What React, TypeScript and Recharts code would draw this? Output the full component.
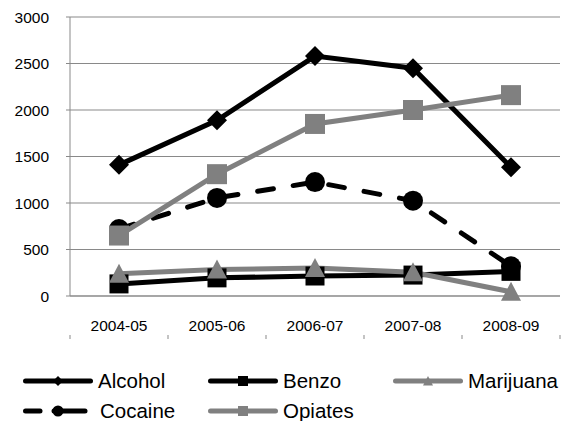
import { LineChart, Line, XAxis, YAxis, CartesianGrid } from 'recharts';

const periods = ['2004-05', '2005-06', '2006-07', '2007-08', '2008-09'];
const alcohol = [1410, 1890, 2580, 2450, 1385];
const benzo = [130, 195, 215, 225, 265];
const marijuana = [240, 285, 300, 255, 45];
const cocaine = [720, 1055, 1225, 1025, 320];
const opiates = [650, 1310, 1850, 2000, 2160];
const yTicks = [0, 500, 1000, 1500, 2000, 2500, 3000];
const edgeTicks = [0, 1, 2, 3, 4, 5];

const BLACK = '#000000';
const GRAY = '#808080';
const GRID = '#898989';
const FONT = '"Liberation Sans", Arial, sans-serif';

const data = periods.map((period, i) => ({
  period,
  slot: i + 0.5,
  alcohol: alcohol[i],
  benzo: benzo[i],
  marijuana: marijuana[i],
  cocaine: cocaine[i],
  opiates: opiates[i],
}));

type Shape = 'diamond' | 'square' | 'triangle' | 'circle';

function marker(shape: Shape, cx: number, cy: number, r: number, fill: string, key?: string | number) {
  if (shape === 'diamond') {
    return <path key={key} d={`M${cx},${cy - r}L${cx + r},${cy}L${cx},${cy + r}L${cx - r},${cy}Z`} fill={fill} />;
  }
  if (shape === 'square') {
    return <rect key={key} x={cx - r} y={cy - r} width={r * 2} height={r * 2} fill={fill} />;
  }
  if (shape === 'triangle') {
    return <path key={key} d={`M${cx},${cy - r}L${cx + r},${cy + r * 0.9}L${cx - r},${cy + r * 0.9}Z`} fill={fill} />;
  }
  return <circle key={key} cx={cx} cy={cy} r={r} fill={fill} />;
}

const dotOf = (shape: Shape, r: number, fill: string) => (p: any) =>
  marker(shape, p.cx, p.cy, r, fill, `${shape}-${p.index}`);

const legendItems = [
  { name: 'Alcohol', color: BLACK, shape: 'diamond' as Shape, x: 23, y: 381, dashed: false, r: 5 },
  { name: 'Benzo', color: BLACK, shape: 'square' as Shape, x: 208, y: 381, dashed: false, r: 5 },
  { name: 'Marijuana', color: GRAY, shape: 'triangle' as Shape, x: 393, y: 381, dashed: false, r: 5 },
  { name: 'Cocaine', color: BLACK, shape: 'circle' as Shape, x: 23, y: 411, dashed: true, r: 5.5 },
  { name: 'Opiates', color: GRAY, shape: 'square' as Shape, x: 208, y: 411, dashed: false, r: 5 },
];

function ChartLegend() {
  return (
    <svg width={573} height={421} style={{ position: 'absolute', left: 0, top: 0, pointerEvents: 'none' }}>
      {legendItems.map((it) => {
        const w = 70;
        const mid = it.x + w / 2;
        return (
          <g key={it.name}>
            {it.dashed ? (
              <>
                <line x1={it.x + 2.5} y1={it.y} x2={it.x + 17} y2={it.y} stroke={it.color} strokeWidth={5} strokeLinecap="round" />
                <line x1={mid - 4} y1={it.y} x2={it.x + 62} y2={it.y} stroke={it.color} strokeWidth={5} strokeLinecap="round" />
              </>
            ) : (
              <line x1={it.x + 2.5} y1={it.y} x2={it.x + w - 2.5} y2={it.y} stroke={it.color} strokeWidth={5} strokeLinecap="round" />
            )}
            {marker(it.shape, it.dashed ? it.x + 35 : mid, it.y, it.r, it.color)}
            <text
              x={it.x + (it.dashed ? 77 : 75)}
              y={it.y}
              dy="0.36em"
              fontFamily={FONT}
              fontSize={20.5}
              fill={BLACK}
            >
              {it.name}
            </text>
          </g>
        );
      })}
    </svg>
  );
}

export default function App() {
  return (
    <div style={{ position: 'absolute', left: 0, top: 0, width: 573, height: 421, background: '#fff' }}>
      <LineChart width={573} height={421} data={data} margin={{ top: 17, right: 13, left: 0, bottom: 85 }}>
        <CartesianGrid horizontal vertical={false} stroke={GRID} strokeWidth={1} />
        <XAxis
          xAxisId="edge"
          dataKey="slot"
          type="number"
          domain={[0, 5]}
          ticks={edgeTicks}
          interval={0}
          allowDataOverflow
          height={1}
          tick={() => <g />}
          axisLine={false}
          tickSize={4}
          tickLine={{ stroke: GRID, strokeWidth: 1 }}
        />
        <XAxis
          dataKey="period"
          scale="band"
          height={39}
          tickLine={false}
          tickSize={0}
          tickMargin={24}
          axisLine={{ stroke: GRID }}
          tick={{ fontFamily: FONT, fontSize: 15.5, fill: BLACK }}
        />
        <YAxis
          width={70}
          domain={[0, 3000]}
          ticks={yTicks}
          interval={0}
          tickSize={4}
          tickMargin={17}
          axisLine={{ stroke: GRID }}
          tickLine={{ stroke: GRID }}
          tick={{ fontFamily: FONT, fontSize: 15.5, fill: BLACK }}
        />
        <Line dataKey="alcohol" stroke={BLACK} strokeWidth={5} dot={dotOf('diamond', 10, BLACK)} activeDot={false} isAnimationActive={false} />
        <Line dataKey="benzo" stroke={BLACK} strokeWidth={5} dot={dotOf('square', 9.5, BLACK)} activeDot={false} isAnimationActive={false} />
        <Line dataKey="marijuana" stroke={GRAY} strokeWidth={5} dot={dotOf('triangle', 10, GRAY)} activeDot={false} isAnimationActive={false} />
        <Line dataKey="cocaine" stroke={BLACK} strokeWidth={5} strokeDasharray="16 20" strokeLinecap="round" dot={dotOf('circle', 10, BLACK)} activeDot={false} isAnimationActive={false} />
        <Line dataKey="opiates" stroke={GRAY} strokeWidth={5} dot={dotOf('square', 10, GRAY)} activeDot={false} isAnimationActive={false} />
      </LineChart>
      <ChartLegend />
    </div>
  );
}
